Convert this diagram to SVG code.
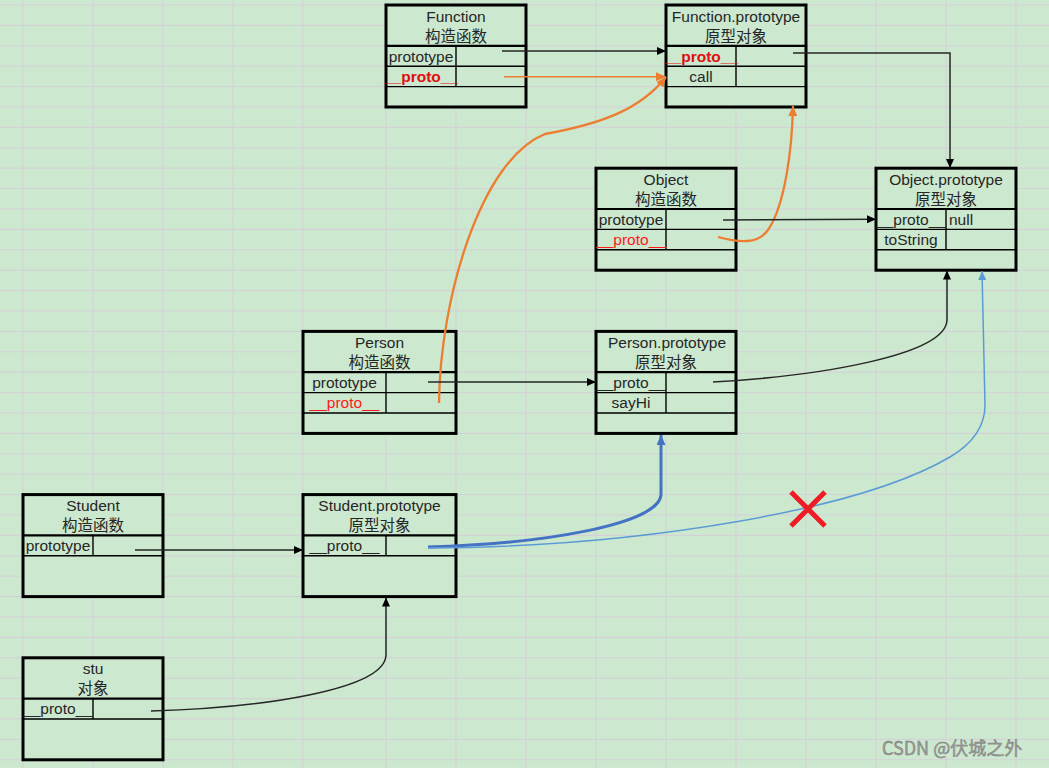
<svg xmlns="http://www.w3.org/2000/svg" width="1049" height="768" viewBox="0 0 1049 768">
<defs>
<style>
.bg{fill:#CCE8CF}
.grid{stroke:#D5CFD8;stroke-width:1;fill:none}
.box{fill:#CCE8CF;stroke:#000;stroke-width:3}
.hdr{stroke:#000;stroke-width:2.2}
.row{stroke:#000;stroke-width:1.4}
.t{font-family:"Liberation Sans","Noto Sans CJK SC",sans-serif;font-size:15.5px;fill:#262626;text-anchor:middle}
.cjk{font-family:"Noto Sans CJK SC","Liberation Sans",sans-serif;font-size:15.5px;fill:#262626;text-anchor:middle}
.red{fill:#FF1A1A}
.bold{font-weight:bold;fill:#E01010}
.lft{text-anchor:start}
.c-black{fill:none;stroke:#262626;stroke-width:1.5}
.c-orange{fill:none;stroke:#ED7D31;stroke-width:2.3}
.c-orange-thin{fill:none;stroke:#ED7D31;stroke-width:1.5}
.c-blue{fill:none;stroke:#4472C4;stroke-width:3}
.c-lblue{fill:none;stroke:#5B9BD5;stroke-width:1.5}
.wm{font-family:"Noto Sans CJK SC","Liberation Sans",sans-serif;font-size:18px;fill:#9a9a9a;stroke:#7a7a7a;stroke-width:0.4}
</style>
<marker id="ab" markerUnits="userSpaceOnUse" markerWidth="9" markerHeight="8" viewBox="0 0 9 8" refX="9" refY="4" orient="auto"><path d="M0,0 L9,4 L0,8 z" fill="#000"/></marker>
<marker id="ao" markerUnits="userSpaceOnUse" markerWidth="10" markerHeight="9" viewBox="0 0 10 9" refX="10" refY="4.5" orient="auto"><path d="M0,0 L10,4.5 L0,9 z" fill="#ED7D31"/></marker>
<marker id="abl" markerUnits="userSpaceOnUse" markerWidth="10" markerHeight="9" viewBox="0 0 10 9" refX="10" refY="4.5" orient="auto"><path d="M0,0 L10,4.5 L0,9 z" fill="#4472C4"/></marker>
<marker id="alb" markerUnits="userSpaceOnUse" markerWidth="9" markerHeight="8" viewBox="0 0 9 8" refX="9" refY="4" orient="auto"><path d="M0,0 L9,4 L0,8 z" fill="#5B9BD5"/></marker>
</defs>
<rect class="bg" x="0" y="0" width="1049" height="768"/>
<path class="grid" d="M23,0V768M93,0V768M163,0V768M233,0V768M303,0V768M386,0V768M456,0V768M526,0V768M596,0V768M666,0V768M736,0V768M806,0V768M876,0V768M946,0V768M1016,0V768
M0,5H1049M0,25.4H1049M0,45.8H1049M0,66.2H1049M0,86.6H1049M0,107H1049M0,127.4H1049M0,147.8H1049M0,168.2H1049M0,188.6H1049M0,209H1049M0,229.4H1049M0,249.8H1049M0,270.2H1049M0,290.6H1049M0,311H1049M0,331.4H1049M0,351.8H1049M0,372.2H1049M0,392.6H1049M0,413H1049M0,433.4H1049M0,453.8H1049M0,474.2H1049M0,494.6H1049M0,515H1049M0,535.4H1049M0,555.8H1049M0,576.2H1049M0,596.6H1049M0,617H1049M0,637.4H1049M0,657.8H1049M0,678.2H1049M0,698.6H1049M0,719H1049M0,739.4H1049M0,759.8H1049"/>

<g id="node-function">
<rect class="box" x="386" y="5" width="140" height="102"/>
<line class="hdr" x1="386" y1="45.8" x2="526" y2="45.8"/>
<line class="row" x1="386" y1="66.2" x2="526" y2="66.2"/>
<line class="row" x1="386" y1="86.6" x2="526" y2="86.6"/>
<line class="row" x1="456" y1="45.8" x2="456" y2="86.6"/>
<text class="t" x="456" y="21.5">Function</text>
<text class="cjk" x="456" y="41.5">构造函数</text>
<text class="t" x="421" y="61.5">prototype</text>
<text class="t bold" x="421" y="81.9">__proto__</text>
</g>

<g id="node-function-prototype">
<rect class="box" x="666" y="5" width="140" height="102"/>
<line class="hdr" x1="666" y1="45.8" x2="806" y2="45.8"/>
<line class="row" x1="666" y1="66.2" x2="806" y2="66.2"/>
<line class="row" x1="666" y1="86.6" x2="806" y2="86.6"/>
<line class="row" x1="736" y1="45.8" x2="736" y2="86.6"/>
<text class="t" x="736" y="21.5">Function.prototype</text>
<text class="cjk" x="736" y="41.5">原型对象</text>
<text class="t bold" x="701" y="61.5">__proto__</text>
<text class="t" x="701" y="81.9">call</text>
</g>

<g id="node-object">
<rect class="box" x="596" y="168.2" width="140" height="102"/>
<line class="hdr" x1="596" y1="209" x2="736" y2="209"/>
<line class="row" x1="596" y1="229.4" x2="736" y2="229.4"/>
<line class="row" x1="596" y1="249.8" x2="736" y2="249.8"/>
<line class="row" x1="666" y1="209" x2="666" y2="249.8"/>
<text class="t" x="666" y="184.7">Object</text>
<text class="cjk" x="666" y="204.7">构造函数</text>
<text class="t" x="631" y="224.7">prototype</text>
<text class="t red" x="631" y="245.1">__proto__</text>
</g>

<g id="node-object-prototype">
<rect class="box" x="876" y="168.2" width="140" height="102"/>
<line class="hdr" x1="876" y1="209" x2="1016" y2="209"/>
<line class="row" x1="876" y1="229.4" x2="1016" y2="229.4"/>
<line class="row" x1="876" y1="249.8" x2="1016" y2="249.8"/>
<line class="row" x1="946" y1="209" x2="946" y2="249.8"/>
<text class="t" x="946" y="184.7">Object.prototype</text>
<text class="cjk" x="946" y="204.7">原型对象</text>
<text class="t" x="911" y="224.7">__proto__</text>
<text class="t lft" x="949" y="224.7">null</text>
<text class="t" x="911" y="245.1">toString</text>
</g>

<g id="node-person">
<rect class="box" x="303" y="331.4" width="153" height="102"/>
<line class="hdr" x1="303" y1="372.2" x2="456" y2="372.2"/>
<line class="row" x1="303" y1="392.6" x2="456" y2="392.6"/>
<line class="row" x1="303" y1="413" x2="456" y2="413"/>
<line class="row" x1="386" y1="372.2" x2="386" y2="413"/>
<text class="t" x="379.5" y="347.9">Person</text>
<text class="cjk" x="379.5" y="367.9">构造函数</text>
<text class="t" x="344.5" y="387.9">prototype</text>
<text class="t red" x="344.5" y="408.3">__proto__</text>
</g>

<g id="node-person-prototype">
<rect class="box" x="596" y="331.4" width="140" height="102"/>
<line class="hdr" x1="596" y1="372.2" x2="736" y2="372.2"/>
<line class="row" x1="596" y1="392.6" x2="736" y2="392.6"/>
<line class="row" x1="596" y1="413" x2="736" y2="413"/>
<line class="row" x1="666" y1="372.2" x2="666" y2="413"/>
<text class="t" x="667" y="347.9">Person.prototype</text>
<text class="cjk" x="666" y="367.9">原型对象</text>
<text class="t" x="631" y="387.9">__proto__</text>
<text class="t" x="631" y="408.3">sayHi</text>
</g>

<g id="node-student">
<rect class="box" x="23" y="494.6" width="140" height="102"/>
<line class="hdr" x1="23" y1="535.4" x2="163" y2="535.4"/>
<line class="row" x1="23" y1="555.8" x2="163" y2="555.8"/>
<line class="row" x1="93" y1="535.4" x2="93" y2="555.8"/>
<text class="t" x="93" y="511.1">Student</text>
<text class="cjk" x="93" y="531.1">构造函数</text>
<text class="t" x="58" y="551.1">prototype</text>
</g>

<g id="node-student-prototype">
<rect class="box" x="303" y="494.6" width="153" height="102"/>
<line class="hdr" x1="303" y1="535.4" x2="456" y2="535.4"/>
<line class="row" x1="303" y1="555.8" x2="456" y2="555.8"/>
<line class="row" x1="386" y1="535.4" x2="386" y2="555.8"/>
<text class="t" x="379.5" y="511.1">Student.prototype</text>
<text class="cjk" x="379.5" y="531.1">原型对象</text>
<text class="t" x="344.5" y="551.1">__proto__</text>
</g>

<g id="node-stu">
<rect class="box" x="23" y="657.8" width="140" height="102"/>
<line class="hdr" x1="23" y1="698.6" x2="163" y2="698.6"/>
<line class="row" x1="23" y1="719" x2="163" y2="719"/>
<line class="row" x1="93" y1="698.6" x2="93" y2="719"/>
<text class="t" x="93" y="674.3">stu</text>
<text class="cjk" x="93" y="694.3">对象</text>
<text class="t" x="58" y="714.3">__proto__</text>
</g>

<g id="connectors">
<path class="c-black" d="M502,51 H666" marker-end="url(#ab)"/>
<path class="c-orange-thin" d="M504,76.7 H666" marker-end="url(#ao)"/>
<path class="c-orange" d="M439,403 C440,300 480,160 545,134 C600,124 640,110 666,77" marker-end="url(#ao)"/>
<path class="c-orange" d="M718,237 C740,243 758,244 768,230 C785,205 792,150 793,106" marker-end="url(#ao)"/>
<path class="c-black" d="M723,220 L876,219.3" marker-end="url(#ab)"/>
<path class="c-black" d="M793,53 H950 V168" marker-end="url(#ab)"/>
<path class="c-black" d="M428,382 H596" marker-end="url(#ab)"/>
<path class="c-black" d="M713,382 C820,376 946,355 947,320 L947,270.5" marker-end="url(#ab)"/>
<path class="c-blue" d="M428,547 C540,544 658,525 661,495 L661,435" marker-end="url(#abl)"/>
<path class="c-lblue" d="M428,548 C640,547 860,510 950,457 C972,444 985,428 985,405 L982,271" marker-end="url(#alb)"/>
<path class="c-black" d="M135,550 H303" marker-end="url(#ab)"/>
<path class="c-black" d="M151,711 C260,708 385,690 386,655 L386,597.5" marker-end="url(#ab)"/>
</g>

<g id="cross">
<path d="M791,492 L825,526 M825,492 L791,526" stroke="#EE1C25" stroke-width="5" fill="none"/>
</g>

<text class="wm" x="882" y="755">CSDN @伏城之外</text>
</svg>
